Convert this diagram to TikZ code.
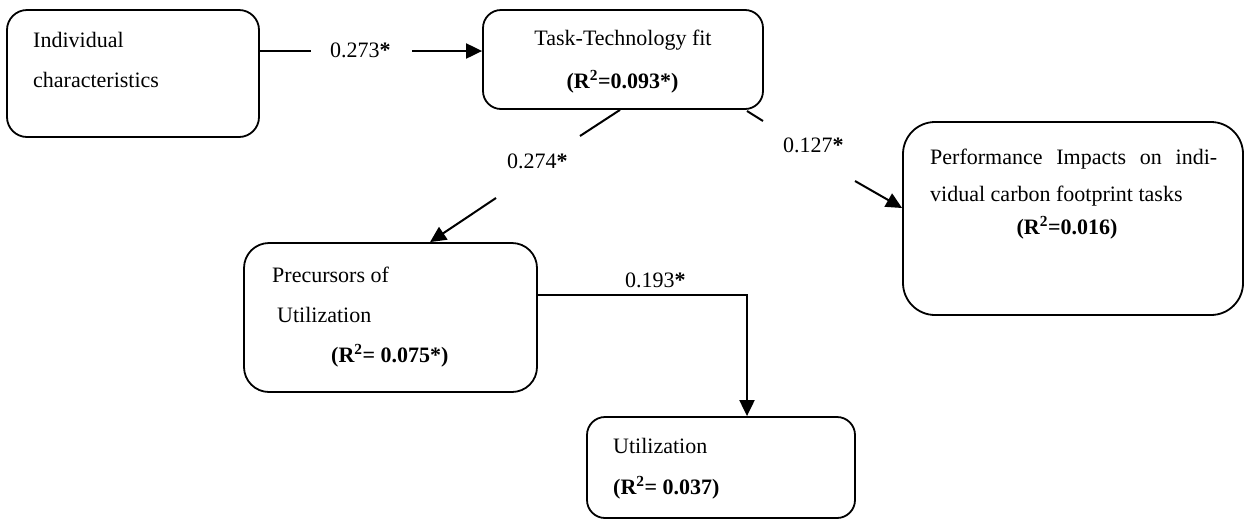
\documentclass[tikz,border=0pt]{standalone}
\usepackage{fontspec}
\setmainfont{Liberation Serif}
\usetikzlibrary{arrows.meta}

\tikzset{
  rbox/.style={draw, line width=1.8pt, rectangle, inner sep=0pt, rounded corners=#1},
  txt/.style={anchor=base west, inner sep=0pt, font=\fontsize{22}{26}\selectfont},
  ctxt/.style={txt, anchor=base},
  rsq/.style={txt, font=\fontsize{22}{26}\selectfont\bfseries},
  crsq/.style={rsq, anchor=base},
  conn/.style={line width=2pt},
  arr/.style={conn, -{Triangle[length=16pt,width=15pt]}},
}

\newcommand{\rsqv}[1]{(R\textsuperscript{2}#1)}
\newcommand{\coef}[1]{#1\textbf{*}}

\begin{document}
\begin{tikzpicture}[x=1pt, y=-1pt]
  \useasboundingbox (0,0) rectangle (1246,523);

  % boxes
  \node[rbox=20pt, minimum width=252pt, minimum height=127pt] (ic)   at (133,73.5)  {};
  \node[rbox=18pt, minimum width=280pt, minimum height=99pt]  (ttf)  at (623,59.5)  {};
  \node[rbox=32pt, minimum width=340pt, minimum height=193pt] (perf) at (1073,218.5) {};
  \node[rbox=25pt, minimum width=293pt, minimum height=149pt] (prec) at (390.5,317.5) {};
  \node[rbox=18pt, minimum width=268pt, minimum height=101pt] (util) at (721,467.5) {};

  % box texts
  \node[txt] (ic1) at (33,47) {Individual};
  \node[txt] (ic2) at (33,87) {characteristics};

  \node[ctxt] (ttf1) at (623,45) {Task-Technology fit};
  \node[crsq] (ttf2) at (622.5,88) {\rsqv{=0.093*}};

  \node[txt] (perf1) at (930,164) {\makebox[287pt][s]{Performance Impacts on indi-}};
  \node[txt] (perf2) at (930,201) {vidual carbon footprint tasks};
  \node[crsq] (perf3) at (1067,234) {\rsqv{=0.016}};

  \node[txt] (prec1) at (272,282) {Precursors of};
  \node[txt] (prec2) at (277,322) {Utilization};
  \node[rsq] (prec3) at (331,362) {\rsqv{= 0.075*}};

  \node[txt] (util1) at (613,453) {Utilization};
  \node[rsq] (util2) at (613,494) {\rsqv{= 0.037}};

  % path coefficients
  \node[txt] (l1) at (330,57)  {\coef{0.273}};
  \node[txt] (l2) at (507,168) {\coef{0.274}};
  \node[txt] (l3) at (783,152) {\coef{0.127}};
  \node[txt] (l4) at (625,287) {\coef{0.193}};

  % Individual characteristics -> Task-Technology fit
  \coordinate (a1) at (311,51);
  \coordinate (a2) at (412,51);
  \draw[conn] (ic.east |- a1) -- (a1);
  \draw[arr] (a2) -- (ttf.west |- a2);

  % Task-Technology fit -> Precursors of Utilization
  \coordinate (b0) at (620,109);
  \coordinate (b1) at (580,136);
  \coordinate (b2) at (496,198);
  \coordinate (b3) at (430,243);
  \draw[conn] (b0 |- ttf.south) -- (b1);
  \draw[arr] (b2) -- (b3 |- prec.north);

  % Task-Technology fit -> Performance Impacts
  \coordinate (c0) at (747,111);
  \coordinate (c1) at (763,121);
  \coordinate (c2) at (855,181);
  \coordinate (c3) at (903,208);
  \draw[conn] (c0) -- (c1);
  \draw[arr] (c2) -- (perf.west |- c3);

  % Precursors of Utilization -> Utilization
  \coordinate (d1) at (747,295);
  \draw[arr] (prec.east |- d1) -- (d1) -- (d1 |- util.north);
\end{tikzpicture}
\end{document}
